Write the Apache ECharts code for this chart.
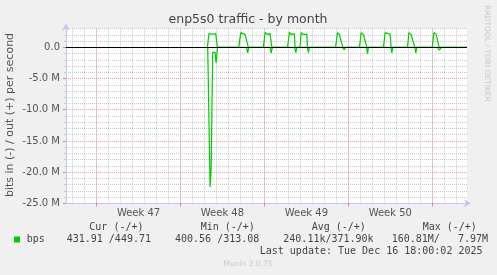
<!DOCTYPE html>
<html><head><meta charset="utf-8">
<script src="https://cdn.jsdelivr.net/npm/echarts@6/dist/echarts.min.js"></script>
<style>html,body{margin:0;padding:0;background:#f0f0f0}#c{width:497px;height:275px}</style>
</head><body><div id="c"></div>
<script>
// x values: days since Mon 17 Nov 2025 00:00 (start of ISO week 47); y values in Mbit/s
const xMin = -2.55, xMax = 30.9;
const dayTicks = [-2,-1,0,1,2,3,4,5,6,7,8,9,10,11,12,13,14,15,16,17,18,19,20,21,22,23,24,25,26,27,28,29,30];
const weekStarts = [0, 7, 14, 21, 28];
const weekCenters = [3.5, 10.5, 17.5, 24.5];
const weekLabels = ['Week 47', 'Week 48', 'Week 49', 'Week 50'];
const yMajorTicks = [-25, -20, -15, -10, -5, 0];
const yMin = -25, yMax = 3;

const outData = [
  [9.24,0],[9.38,2.2],[9.52,2.5],[9.69,2.1],[9.80,2.35],[9.94,2.2],[10.08,0],
  [11.86,0],[12.03,2.36],[12.39,2.04],[12.53,2.2],[12.66,0],
  [13.91,0],[14.06,2.36],[14.28,2.04],[14.47,2.2],[14.62,0],
  [15.93,0],[16.09,2.45],[16.23,2.04],[16.37,2.29],[16.50,2.2],[16.56,0],
  [16.98,0],[17.06,2.36],[17.25,2.04],[17.40,2.29],[17.54,2.1],[17.59,0],
  [19.94,0],[20.09,2.36],[20.26,2.04],[20.40,2.29],[20.54,0],
  [21.93,0],[22.07,2.36],[22.26,2.04],[22.40,2.2],[22.55,0],
  [23.93,0],[24.07,2.35],[24.21,2.08],[24.30,2.2],[24.41,2.24],[24.49,2.08],[24.57,0],
  [25.94,0],[26.05,2.36],[26.24,2.04],[26.38,2.2],[26.55,0],
  [28.00,0],[28.14,2.36],[28.33,2.08],[28.47,2.15],[28.58,0],
  [30.9,0]
];
const inData = [
  [9.27,0],[9.47,-22.4],[9.55,-19.9],[9.63,-19.6],[9.69,-0.8],[9.88,-0.8],[9.97,-2.5],[10.09,0],
  [12.51,0],[12.60,-0.91],[12.70,0],
  [14.50,0],[14.56,-0.91],[14.67,0],
  [16.52,0],[16.62,-0.85],[16.70,0],
  [17.59,0],[17.67,-0.85],[17.75,0],
  [20.53,0],[20.64,-0.4],[20.79,0],
  [22.53,0],[22.60,-1.0],[22.68,0],
  [24.56,0],[24.63,-0.9],[24.72,0],
  [26.55,0],[26.63,-0.91],[26.72,0],
  [28.45,0],[28.58,-0.45],[28.72,-0.45],[28.77,0],
  [30.9,0]
];

const statHeaders = ['Cur (-/+)', 'Min (-/+)', 'Avg (-/+)', 'Max (-/+)'];
const statValues = ['431.91 /449.71', '400.56 /313.08', '240.11k/371.90k', '160.81M/   7.97M'];
const seriesName = 'bps';
const lastUpdate = 'Last update: Tue Dec 16 18:00:02 2025';
const titleText = 'enp5s0 traffic - by month';
const yName = 'bits in (-) / out (+) per second';

const GREEN = '#00cc00';
const AXIS = '#c4c4f4';
const MINOR = '#c8c8c8';
const MAJOR = '#e4a0a0';
const mono = '"DejaVu Sans Mono", monospace';
const sans = '"DejaVu Sans", sans-serif';

const headerX = [89.3, 200.7, 311.7, 422.7];
const valueX = [66.7, 175, 283.3, 391.7];

const graphics = [
  {type:'text', x:248, y:19.5, style:{text:titleText, font:'12.5px '+sans, fill:'#444', align:'center', verticalAlign:'middle'}},
  {type:'text', x:10.5, y:115, rotation:Math.PI/2, style:{text:yName, font:'11px '+sans, fill:'#555', align:'center', verticalAlign:'middle'}},
  {type:'text', x:487, y:53.5, rotation:-Math.PI/2, style:{text:'RRDTOOL / TOBI OETIKER', font:'7.5px '+sans, fill:'#c8c8c8', align:'center', verticalAlign:'middle'}},
  {type:'rect', shape:{x:14, y:236.5, width:6, height:6}, style:{fill:GREEN}},
  {type:'text', x:26.7, y:239.5, style:{text:seriesName, font:'10px '+mono, fill:'#444', verticalAlign:'middle'}},
  {type:'text', x:482.5, y:251.2, style:{text:lastUpdate, font:'10px '+mono, fill:'#444', align:'right', verticalAlign:'middle'}},
  {type:'text', x:248, y:264.5, style:{text:'Munin 2.0.75', font:'7.5px '+sans, fill:'#c8c8c8', align:'center', verticalAlign:'middle'}}
];
statHeaders.forEach((h, i) => graphics.push({type:'text', x:headerX[i], y:227.8, style:{text:h, font:'10px '+mono, fill:'#444', verticalAlign:'middle'}}));
statValues.forEach((v, i) => graphics.push({type:'text', x:valueX[i], y:239.5, style:{text:v, font:'10px '+mono, fill:'#444', verticalAlign:'middle'}}));

const chart = echarts.init(document.getElementById('c'), null, {renderer:'canvas'});
chart.setOption({
  animation:false,
  backgroundColor:'#f0f0f0',
  grid:{left:66, right:30, top:28.6, bottom:71.7, show:true, backgroundColor:'#ffffff', borderWidth:0},
  xAxis:[
    {type:'value', min:xMin, max:xMax, position:'bottom',
     axisLine:{show:true, onZero:false, lineStyle:{color:AXIS, width:1}, symbol:['none','arrow'], symbolSize:[6,7], symbolOffset:[0,4]},
     axisTick:{show:false, customValues:dayTicks},
     axisLabel:{show:false},
     splitLine:{show:true, lineStyle:{color:MINOR, type:[1,1], width:1}}},
    {type:'value', min:xMin, max:xMax, position:'bottom',
     axisLine:{show:false, onZero:false},
     axisTick:{show:true, customValues:weekStarts, length:3, lineStyle:{color:'#e08080'}},
     axisLabel:{show:true, customValues:weekCenters, margin:5, fontSize:10, fontFamily:sans, color:'#555',
       formatter:(v) => { const i = weekCenters.indexOf(v); return i >= 0 ? weekLabels[i] : ''; }},
     splitLine:{show:true, lineStyle:{color:MAJOR, type:[1,1], width:1}}}
  ],
  yAxis:[
    {type:'value', min:yMin, max:yMax, interval:1,
     axisLine:{show:true, onZero:false, lineStyle:{color:AXIS, width:1}, symbol:['none','arrow'], symbolSize:[6,7], symbolOffset:[0,5]},
     axisTick:{show:true, length:2, lineStyle:{color:MINOR}},
     axisLabel:{show:false},
     splitLine:{show:true, lineStyle:{color:MINOR, type:[1,1], width:1}}},
    {type:'value', min:yMin, max:yMax, position:'left',
     axisLine:{show:false, onZero:false},
     axisTick:{show:true, customValues:yMajorTicks, length:3, lineStyle:{color:'#e08080'}},
     axisLabel:{show:true, customValues:yMajorTicks, margin:6, fontSize:10, fontFamily:sans, color:'#555',
       formatter:(v) => v === 0 ? '0.0' : v.toFixed(1) + ' M'},
     splitLine:{show:true, lineStyle:{color:MAJOR, type:[1,1], width:1}}}
  ],
  series:[
    {name:'out', type:'line', data:outData, xAxisIndex:0, yAxisIndex:0, showSymbol:false, symbol:'none',
     lineStyle:{color:GREEN, width:1.2}, z:3},
    {name:'in', type:'line', data:inData, xAxisIndex:0, yAxisIndex:0, showSymbol:false, symbol:'none',
     lineStyle:{color:GREEN, width:1.2}, z:3,
     markLine:{silent:true, symbol:'none', label:{show:false}, data:[{yAxis:0}],
       lineStyle:{color:'#000', width:1, type:'solid'}}}
  ]
  ,graphic:graphics
});
</script></body></html>
